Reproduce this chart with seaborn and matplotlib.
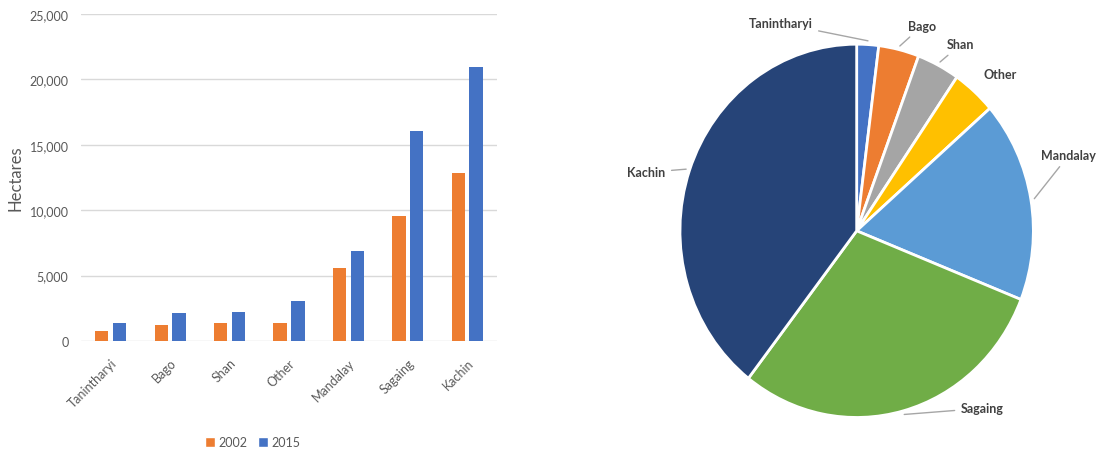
import numpy as np
import pandas as pd
import matplotlib.pyplot as plt
import seaborn as sns
from matplotlib.patches import Patch
from matplotlib.ticker import FuncFormatter
from matplotlib.transforms import ScaledTranslation

# data
regions = ['Tanintharyi', 'Bago', 'Shan', 'Other', 'Mandalay', 'Sagaing', 'Kachin']
years = ['2002', '2015']
ha_2002 = [790, 1200, 1350, 1350, 5600, 9580, 12820]
ha_2015 = [1350, 2115, 2240, 3030, 6855, 16030, 20950]
pie_share = [2.0, 3.7, 3.9, 4.0, 17.4, 29.5, 39.5]

bar_colors = {'2002': '#ED7D31', '2015': '#4472C4'}
pie_colors = ['#4472C4', '#ED7D31', '#A5A5A5', '#FFC000', '#5B9BD5', '#70AD47', '#264478']
# label placement around the pie, in radius units
label_pos = [(-0.43, 1.112), (0.37, 1.098), (0.59, 1.0), (0.81, 0.839),
             (1.20, 0.405), (0.71, -0.951), (-1.19, 0.313)]
leader = [True, True, True, False, True, True, True]

sns.set_style('white')
plt.rcParams['font.family'] = ['Lato', 'DejaVu Sans']
grey_txt = '#595959'

df = pd.DataFrame({
    'Region': regions * 2,
    'Year': [years[0]] * len(regions) + [years[1]] * len(regions),
    'Hectares': ha_2002 + ha_2015,
})

fig = plt.figure(figsize=(10.99, 4.52), dpi=100)

# --- bar chart ---
ax1 = fig.add_axes([0.0737, 0.2434, 0.3785, 0.7235])
sns.barplot(data=df, x='Region', y='Hectares', hue='Year', palette=bar_colors,
            width=0.6, gap=0.25, saturation=1, linewidth=0, ax=ax1)
ax1.set_ylim(0, 25000)
ax1.set_xlim(-0.5, len(regions) - 0.5)
ax1.set_yticks(np.arange(0, 25001, 5000))
ax1.yaxis.set_major_formatter(FuncFormatter(lambda v, p: f'{int(v):,}'))
ax1.yaxis.grid(True, color='#D9D9D9', lw=1)
ax1.set_axisbelow(True)
sns.despine(ax=ax1, left=True, bottom=True)
ax1.tick_params(axis='both', length=0, labelsize=9, labelcolor=grey_txt)
ax1.tick_params(axis='y', pad=9)
ax1.tick_params(axis='x', pad=14)
shift = ScaledTranslation(3 / 72, 0, fig.dpi_scale_trans)
for lab in ax1.get_xticklabels():
    lab.set_rotation(45)
    lab.set_ha('right')
    lab.set_va('center')
    lab.set_rotation_mode('anchor')
    lab.set_transform(lab.get_transform() + shift)
ax1.set_xlabel('')
ax1.set_ylabel('Hectares', fontsize=12, color=grey_txt, labelpad=4)

handles = [Patch(facecolor=bar_colors[y]) for y in years]
ax1.legend(handles, years, loc='center', bbox_to_anchor=(0.413, -0.31), ncol=2,
           frameon=False, handlelength=0.8, handleheight=0.8, handletextpad=0.3,
           columnspacing=0.8, fontsize=9, labelcolor=grey_txt)

# --- pie chart (reference is slightly stretched vertically) ---
ax2 = fig.add_axes([0.5544, -0.0084, 0.4502, 0.991])
wedges, _ = ax2.pie(pie_share, colors=pie_colors, startangle=90, counterclock=False,
                    wedgeprops=dict(edgecolor='white', linewidth=2))
ax2.set_aspect('auto')
ax2.set_xlim(-1.4, 1.4)
ax2.set_ylim(-1.2, 1.2)

for i, w in enumerate(wedges):
    ang = np.deg2rad((w.theta1 + w.theta2) / 2)
    pt = (1.02 * np.cos(ang), 1.02 * np.sin(ang))
    arrow = dict(arrowstyle='-', color='#A6A6A6', lw=1, shrinkA=2, shrinkB=0) if leader[i] else None
    ax2.annotate(regions[i], xy=pt, xytext=label_pos[i], ha='center', va='center',
                 fontsize=9, fontweight='bold', color='#404040', arrowprops=arrow,
                 annotation_clip=False)

fig.savefig('out.png', dpi=100)
